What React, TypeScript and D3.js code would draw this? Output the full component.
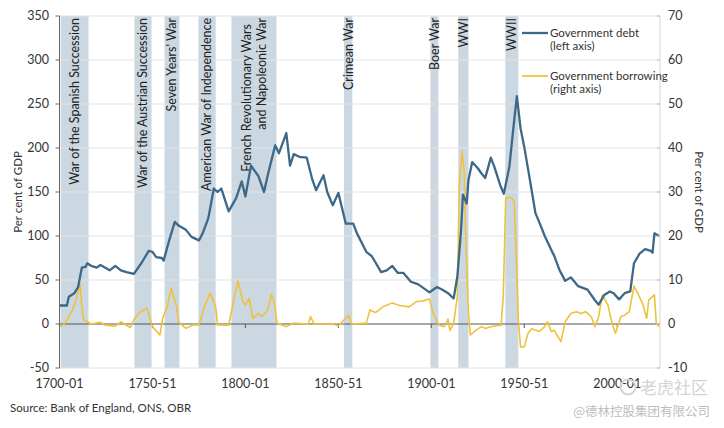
import React, { useEffect, useRef } from 'react';
import * as d3 from 'd3';

// Government debt, per cent of GDP (left axis)
const debtYears = [
  1700, 1704, 1705, 1708, 1710, 1712, 1714, 1715, 1717, 1720, 1722, 1727, 1730, 1733, 1736, 1740,
  1744, 1748, 1750, 1752, 1755, 1756, 1759, 1762, 1764, 1768, 1771, 1775, 1777, 1780, 1781, 1783,
  1785, 1787, 1791, 1795, 1798, 1800, 1803, 1806, 1807, 1810, 1812, 1816, 1818, 1822, 1824, 1826,
  1829, 1833, 1836, 1838, 1842, 1844, 1847, 1850, 1854, 1858, 1860, 1865, 1868, 1873, 1876, 1879,
  1882, 1885, 1889, 1893, 1899, 1903, 1906, 1909, 1912, 1914, 1916, 1917, 1919, 1920, 1922, 1925,
  1927, 1929, 1932, 1934, 1937, 1939, 1942, 1944, 1946, 1948, 1950, 1953, 1956, 1958, 1961, 1965,
  1966, 1969, 1972, 1975, 1979, 1984, 1988, 1990, 1993, 1996, 1998, 2001, 2004, 2007, 2009, 2012,
  2015, 2018, 2019, 2020, 2022.5,
];
const debtValues = [
  21, 21, 31, 35, 42, 64, 65, 69, 66, 64, 67, 61, 66, 61, 59, 57,
  69, 83, 82, 76, 75, 72, 95, 116, 112, 107, 99, 95, 103, 120, 131, 154,
  150, 154, 128, 143, 162, 145, 180, 171, 168, 150, 169, 203, 194, 217, 180, 193,
  190, 189, 164, 152, 169, 150, 135, 149, 114, 114, 103, 82, 77, 59, 61, 66,
  58, 58, 48, 45, 36, 42, 39, 35, 29, 54, 107, 147, 137, 164, 184, 177,
  171, 166, 189, 178, 158, 148, 179, 220, 259, 222, 201, 164, 126, 116, 100, 82,
  78, 61, 49, 53, 43, 39, 27, 22, 33, 37, 35, 28, 35, 37, 69, 80,
  85, 83, 81, 103, 100,
];

// Government borrowing, per cent of GDP (right axis)
const borrowYears = [
  1700, 1702, 1704, 1707, 1709, 1711, 1712, 1713, 1715, 1717, 1722, 1724, 1730, 1733, 1738, 1740,
  1743, 1747, 1748, 1750, 1754, 1755.5, 1758, 1760, 1763, 1764, 1768, 1772, 1775, 1778, 1781, 1784,
  1785, 1791, 1793, 1796, 1798.6, 1800, 1802, 1804, 1807, 1809, 1812, 1814, 1815.6, 1817, 1822, 1826,
  1834, 1835, 1837, 1847, 1850, 1855.5, 1857, 1865, 1867, 1870, 1874, 1879, 1883, 1888, 1892, 1895,
  1899, 1901, 1904, 1907, 1909, 1910, 1912, 1914, 1915, 1916.5, 1917.7, 1918.6, 1920, 1921, 1924, 1927,
  1929, 1933, 1937.5, 1938.7, 1940, 1943, 1944.6, 1945.8, 1946.8, 1948, 1950, 1952, 1954, 1958, 1961, 1962.5,
  1964.5, 1966, 1967, 1969.7, 1972, 1975, 1978, 1980.5, 1983, 1986, 1988, 1990, 1992, 1995, 1997, 1999,
  2002, 2004, 2006.5, 2009, 2011, 2013.6, 2015.8, 2017, 2020, 2021, 2022.5,
];
const borrowValues = [
  -0.6, -0.2, 0.9, 3.2, 5.5, 9.2, 3.9, 0.9, 0.5, 0, 0.4, -0.2, -0.5, 0.5, -0.8, 0.9,
  2.6, 3.6, 2.4, -0.6, -2.5, 1.3, 3.9, 8.1, 3.9, 0.5, -1, -0.2, -0.2, 3.9, 7.1, 3.9,
  -0.2, -0.3, 3.9, 9.8, 5.1, 4.3, 5.8, 1.3, 2.4, 1.7, 3.2, 6.8, 4.7, 0.2, -0.6, 0.2,
  0, 1.7, 0, 0, -0.4, 2, 0, 0.2, 3.2, 2.6, 3.9, 4.8, 4.2, 3.9, 5.1, 5.2,
  5.7, 2.4, -0.2, -0.6, 1.1, -1.5, 0.2, 6.2, 31.2, 39.2, 34.6, 17.6, 2.4, -2.5, -1.4, -0.6,
  -1, -0.5, -0.3, 6.2, 28.6, 28.8, 27.8, 13.8, 0.9, -5.2, -5.2, -2.1, -1.1, -1.7, -0.6, 0.5,
  -1.7, -1.4, -2.1, -4, 0.5, 2.4, 2.8, 2.4, 2.8, 1.7, -0.6, 1.7, 6.6, 4.3, 0.5, -2.1,
  1.7, 2, 2.8, 8.6, 7, 4.7, 1.3, 5.5, 6.6, 0.2, -0.6,
];

// Shaded war periods
const warLabels = [
  ['War of the Spanish Succession'],
  ['War of the Austrian Succession'],
  ["Seven Years' War"],
  ['American War of Independence'],
  ['French Revolutionary Wars', 'and  Napoleonic War'],
  ['Crimean War'],
  ['Boer War'],
  ['WWI'],
  ['WWII'],
];
const warStarts = [1700.6, 1740.3, 1756.5, 1774.7, 1792.5, 1853, 1899.5, 1914.5, 1939.8];
const warEnds = [1715.6, 1749.5, 1764.5, 1784, 1816.7, 1857.5, 1903.8, 1920, 1946.8];

const leftTicks = [-50, 0, 50, 100, 150, 200, 250, 300, 350];
const rightTicks = [-10, 0, 10, 20, 30, 40, 50, 60, 70];
const xTicks = [1700, 1750, 1800, 1850, 1900, 1950, 2000];
const xTickLabels = ['1700-01', '1750-51', '1800-01', '1850-51', '1900-01', '1950-51', '2000-01'];

const FONT = 'Lato, "Open Sans", sans-serif';
const DEBT_COLOR = '#3d6888';
const BORROW_COLOR = '#eec23a';
const BAND_COLOR = '#cbd7e1';
const TEXT_COLOR = '#333';

const Chart: React.FC = () => {
  const svgRef = useRef<SVGSVGElement>(null);

  useEffect(() => {
    if (!svgRef.current) return;
    const svg = d3.select(svgRef.current);
    svg.selectAll('*').remove();

    const left = 59.5;
    const right = 660;
    const top = 16;
    const bottom = 368;

    const x = d3.scaleLinear().domain([1700, 2023]).range([left, right]);
    const yL = d3.scaleLinear().domain([-50, 350]).range([bottom, top]);
    const yR = d3.scaleLinear().domain([-10, 70]).range([bottom, top]);

    // War bands
    const bands = svg.append('g');
    warStarts.forEach((s, i) => {
      bands.append('rect')
        .attr('x', x(s))
        .attr('y', top)
        .attr('width', x(warEnds[i]) - x(s))
        .attr('height', bottom - top)
        .attr('fill', BAND_COLOR);
    });

    // Gridlines
    svg.append('g')
      .selectAll('line')
      .data(leftTicks.filter(t => t !== 0))
      .join('line')
      .attr('x1', left)
      .attr('x2', right)
      .attr('y1', d => yL(d))
      .attr('y2', d => yL(d))
      .attr('stroke', '#e3e3e3')
      .attr('stroke-width', 1);

    // War labels
    warLabels.forEach((lines, i) => {
      const cx = (x(warStarts[i]) + x(warEnds[i])) / 2;
      const gap = 15;
      lines.forEach((line, j) => {
        const off = (j - (lines.length - 1) / 2) * gap;
        svg.append('text')
          .attr('transform', `translate(${cx + off},${lines.length > 1 && j === 0 ? 24 : 18}) rotate(-90)`)
          .attr('text-anchor', 'end')
          .attr('dy', '0.35em')
          .style('font-family', FONT)
          .style('font-size', '12.5px')
          .attr('fill', '#222')
          .text(line);
      });
    });

    // Zero line
    svg.append('line')
      .attr('x1', left)
      .attr('x2', right)
      .attr('y1', yL(0))
      .attr('y2', yL(0))
      .attr('stroke', '#555')
      .attr('stroke-width', 1);

    // x ticks on zero line
    svg.append('g')
      .selectAll('line')
      .data(xTicks)
      .join('line')
      .attr('x1', d => x(d))
      .attr('x2', d => x(d))
      .attr('y1', yL(0))
      .attr('y2', yL(0) + 4)
      .attr('stroke', '#555');

    // Lines
    const debtLine = d3.line<number>()
      .x((_, i) => x(debtYears[i]))
      .y(d => yL(d));
    const borrowLine = d3.line<number>()
      .x((_, i) => x(borrowYears[i]))
      .y(d => yR(d));

    svg.append('path')
      .datum(borrowValues)
      .attr('d', borrowLine)
      .attr('fill', 'none')
      .attr('stroke', BORROW_COLOR)
      .attr('stroke-width', 1.6)
      .attr('stroke-linejoin', 'round');

    svg.append('path')
      .datum(debtValues)
      .attr('d', debtLine)
      .attr('fill', 'none')
      .attr('stroke', DEBT_COLOR)
      .attr('stroke-width', 2.3)
      .attr('stroke-linejoin', 'round');

    // Left axis
    svg.append('line')
      .attr('x1', left).attr('x2', left)
      .attr('y1', top).attr('y2', bottom)
      .attr('stroke', '#666');
    const lt = svg.append('g');
    leftTicks.forEach(t => {
      lt.append('line')
        .attr('x1', left - 4).attr('x2', left)
        .attr('y1', yL(t)).attr('y2', yL(t))
        .attr('stroke', '#666');
      lt.append('text')
        .attr('x', 49)
        .attr('y', yL(t))
        .attr('dy', '0.35em')
        .attr('text-anchor', 'end')
        .style('font-family', FONT)
        .style('font-size', '12.5px')
        .attr('fill', TEXT_COLOR)
        .text(t);
    });

    // Right axis
    svg.append('line')
      .attr('x1', right).attr('x2', right)
      .attr('y1', top).attr('y2', bottom)
      .attr('stroke', '#d6d6d6');
    const rt = svg.append('g');
    rightTicks.forEach(t => {
      rt.append('line')
        .attr('x1', right - 3).attr('x2', right)
        .attr('y1', yR(t)).attr('y2', yR(t))
        .attr('stroke', '#bbb');
      rt.append('text')
        .attr('x', 668)
        .attr('y', yR(t))
        .attr('dy', '0.35em')
        .attr('text-anchor', 'start')
        .style('font-family', FONT)
        .style('font-size', '12.5px')
        .attr('fill', TEXT_COLOR)
        .text(t);
    });

    // x labels
    xTicks.forEach((t, i) => {
      svg.append('text')
        .attr('x', x(t))
        .attr('y', 388)
        .attr('text-anchor', 'middle')
        .style('font-family', FONT)
        .style('font-size', '12.5px')
        .attr('fill', TEXT_COLOR)
        .text(xTickLabels[i]);
    });

    // Axis titles
    svg.append('text')
      .attr('transform', `translate(18,${(top + bottom) / 2}) rotate(-90)`)
      .attr('text-anchor', 'middle')
      .attr('dy', '0.35em')
      .style('font-family', FONT)
      .style('font-size', '11.5px')
      .attr('fill', TEXT_COLOR)
      .text('Per cent of GDP');
    svg.append('text')
      .attr('transform', `translate(699,${(top + bottom) / 2}) rotate(90)`)
      .attr('text-anchor', 'middle')
      .attr('dy', '0.35em')
      .style('font-family', FONT)
      .style('font-size', '11.5px')
      .attr('fill', TEXT_COLOR)
      .text('Per cent of GDP');

    // Legend
    const legend = [
      { color: DEBT_COLOR, y: 33, lines: ['Government debt', '(left axis)'], w: 2.3 },
      { color: BORROW_COLOR, y: 76, lines: ['Government borrowing', '(right axis)'], w: 1.8 },
    ];
    legend.forEach(item => {
      svg.append('line')
        .attr('x1', 522).attr('x2', 548)
        .attr('y1', item.y).attr('y2', item.y)
        .attr('stroke', item.color)
        .attr('stroke-width', item.w);
      item.lines.forEach((line, j) => {
        svg.append('text')
          .attr('x', 550)
          .attr('y', item.y + j * 12.5)
          .attr('dy', '0.35em')
          .style('font-family', FONT)
          .style('font-size', '11.5px')
          .attr('fill', TEXT_COLOR)
          .text(line);
      });
    });

    // Source
    svg.append('text')
      .attr('x', 10)
      .attr('y', 412)
      .style('font-family', FONT)
      .style('font-size', '11.5px')
      .attr('fill', TEXT_COLOR)
      .text('Source: Bank of England, ONS, OBR');

    // Watermark
    svg.append('circle')
      .attr('cx', 628).attr('cy', 387).attr('r', 7.5)
      .attr('fill', 'none')
      .attr('stroke', '#d4d4d4')
      .attr('stroke-width', 2);
    svg.append('text')
      .attr('x', 640)
      .attr('y', 394)
      .style('font-family', '"Noto Sans CJK SC", sans-serif')
      .style('font-size', '17px')
      .attr('fill', '#d4d4d4')
      .text('老虎社区');
    svg.append('text')
      .attr('x', 710)
      .attr('y', 416)
      .attr('text-anchor', 'end')
      .style('font-family', '"Noto Sans CJK SC", sans-serif')
      .style('font-size', '12.5px')
      .attr('fill', '#bdbdbd')
      .text('@德林控股集团有限公司');
  }, []);

  return (
    <svg
      ref={svgRef}
      width={724}
      height={428}
      style={{ position: 'absolute', left: 0, top: 0, background: '#fff' }}
    />
  );
};

export default function App() {
  return <Chart />;
}
